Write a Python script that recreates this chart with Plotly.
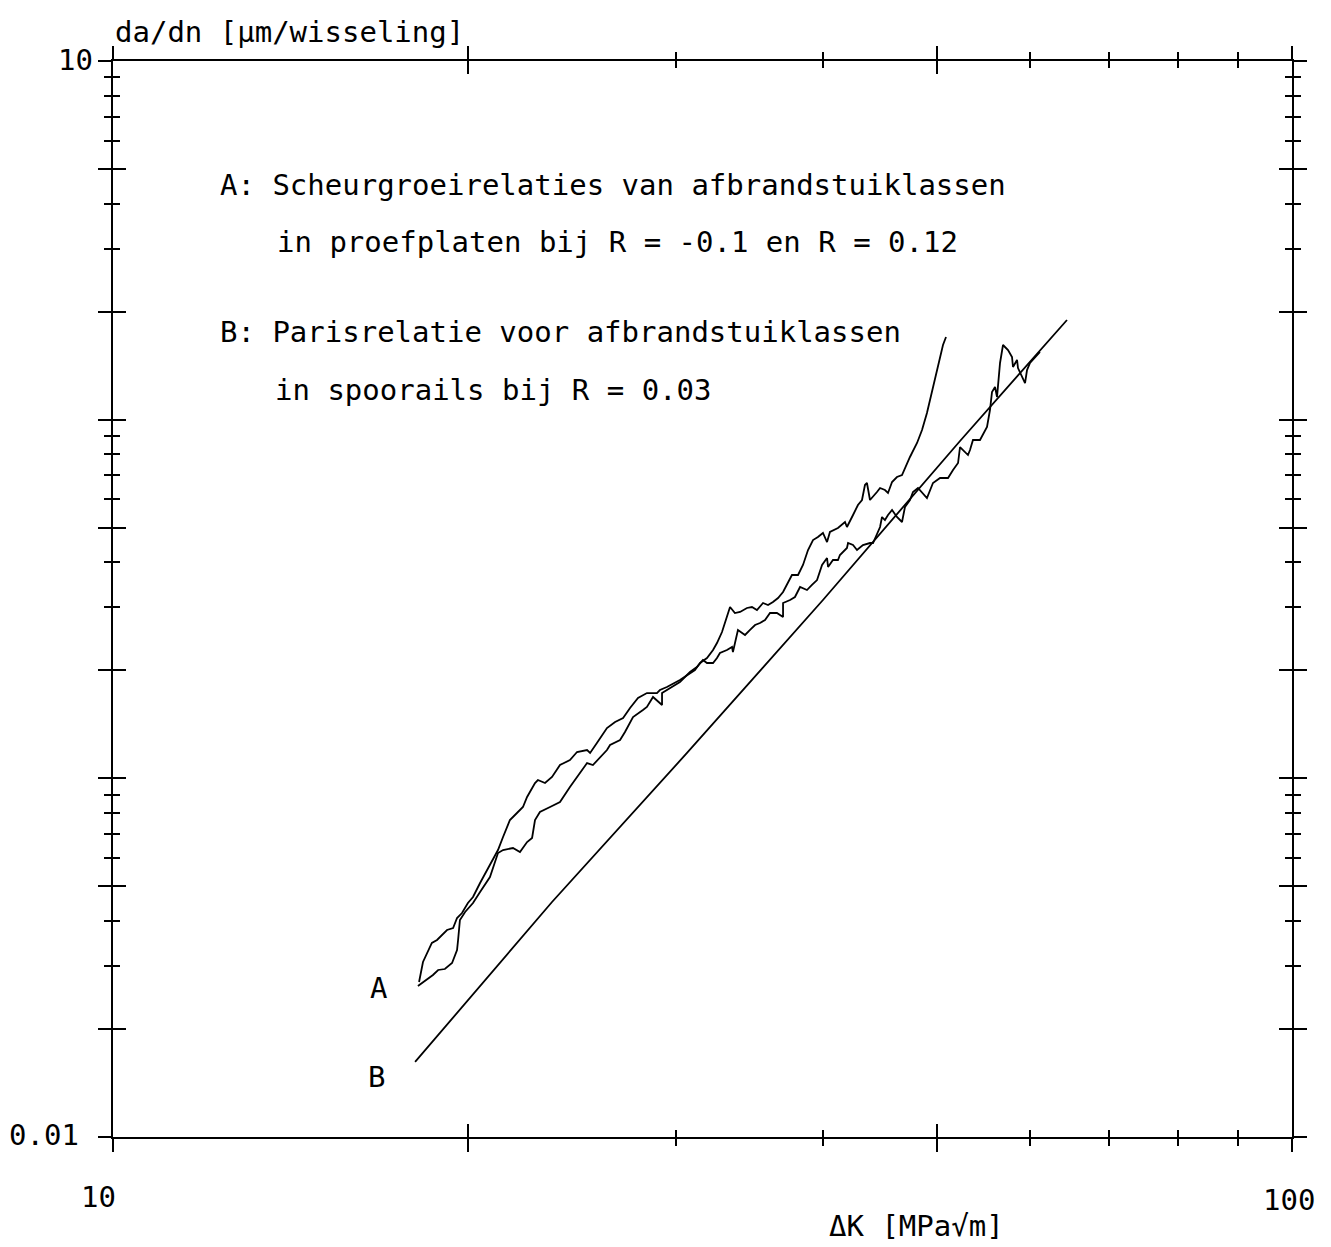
import plotly.graph_objects as go

# ---- data (ΔK in MPa√m, da/dn in µm/cycle) ----
dk_A1 = [18.18, 18.21, 18.32, 18.64, 18.83, 19.20, 19.43, 19.58, 19.77, 20.00,
         20.20, 20.48, 20.76, 21.21, 21.42, 21.71, 22.01, 22.27, 22.45, 22.80,
         22.93, 23.25, 23.57, 23.94, 24.41, 24.75, 25.24, 25.39, 25.73, 26.24,
         26.66, 27.08, 27.45, 27.88, 28.37, 28.93, 29.10, 29.50, 30.26, 30.68,
         31.16, 31.47, 31.90, 32.28, 32.53, 32.85, 33.04, 33.37, 33.69, 34.03,
         34.49, 34.83, 35.17, 35.59, 35.94, 36.29, 36.65, 37.01, 37.66, 38.11,
         38.48, 38.86, 39.24, 39.62, 40.01, 40.33, 40.56, 41.20, 41.77, 41.93,
         42.43, 42.84, 43.18, 43.43, 43.60, 43.86, 44.46, 44.73, 45.16, 45.43,
         45.79, 46.23, 46.69, 47.42, 48.08, 48.55, 49.02, 49.31, 49.60, 49.99,
         50.29, 50.58, 50.88]
dadn_A1 = [0.02705, 0.02775, 0.03076, 0.03475, 0.03542, 0.03777, 0.03826, 0.04079, 0.04212, 0.04492,
           0.04668, 0.05107, 0.05552, 0.06312, 0.06862, 0.07653, 0.08005, 0.08319, 0.08871, 0.09705,
           0.09893, 0.09705, 0.1009, 0.1089, 0.1125, 0.1184, 0.1199, 0.1177, 0.1255, 0.1381,
           0.1436, 0.1473, 0.1571, 0.1675, 0.1729, 0.1729, 0.1763, 0.1797, 0.1880, 0.1941,
           0.2005, 0.2097, 0.2165, 0.2279, 0.2384, 0.2558, 0.2711, 0.3004, 0.2890, 0.2909,
           0.2985, 0.3004, 0.2947, 0.3082, 0.3043, 0.3102, 0.3183, 0.3308, 0.3689, 0.3689,
           0.3934, 0.4331, 0.4618, 0.4708, 0.4831, 0.4559, 0.4862, 0.4988, 0.5184, 0.5020,
           0.5422, 0.5782, 0.5970, 0.6574, 0.6659, 0.5970, 0.6285, 0.6449, 0.6366, 0.6245,
           0.6702, 0.6920, 0.7010, 0.7869, 0.8609, 0.9358, 1.044, 1.135, 1.233, 1.375,
           1.495, 1.615, 1.700]

dk_A2 = [18.14, 18.68, 18.87, 19.12, 19.39, 19.58, 19.62, 19.69, 19.89, 20.20,
         20.48, 20.88, 21.21, 21.42, 21.84, 22.14, 22.45, 22.67, 22.80, 23.02,
         23.48, 23.94, 24.41, 24.89, 25.24, 25.53, 25.89, 26.24, 26.40, 26.92,
         27.18, 27.61, 28.15, 28.37, 28.71, 29.22, 29.22, 29.68, 30.26, 30.86,
         31.28, 31.65, 31.90, 32.28, 32.53, 32.72, 33.17, 33.50, 33.56, 33.89,
         34.36, 34.70, 35.04, 35.38, 35.73, 36.08, 36.57, 37.01, 37.01, 37.52,
         37.88, 38.26, 38.78, 39.16, 39.55, 39.94, 40.33, 40.41, 40.80, 41.20,
         41.36, 41.93, 42.02, 42.43, 42.76, 43.26, 43.86, 44.12, 44.46, 44.73,
         44.90, 45.16, 45.43, 45.79, 46.23, 46.69, 46.96, 47.42, 47.70, 48.17,
         49.02, 49.60, 50.29, 51.08, 51.58, 52.09, 52.29, 53.11, 53.32, 53.63,
         54.37, 54.69, 55.12, 55.44, 55.66, 55.99, 56.21, 56.54, 56.87, 57.43,
         57.88, 57.99, 58.45, 58.56, 59.02, 59.37, 59.60, 59.95, 61.13]
dadn_A2 = [0.02636, 0.02829, 0.02922, 0.02940, 0.03056, 0.03322, 0.03542, 0.04027, 0.04240, 0.04492,
           0.04820, 0.05308, 0.06192, 0.06312, 0.06394, 0.06232, 0.06645, 0.06818, 0.07653, 0.08056,
           0.08319, 0.08590, 0.09459, 0.1035, 0.1103, 0.1089, 0.1147, 0.1199, 0.1239, 0.1279,
           0.1346, 0.1482, 0.1551, 0.1581, 0.1686, 0.1601, 0.1729, 0.1786, 0.1856, 0.1979,
           0.2044, 0.2138, 0.2097, 0.2097, 0.2165, 0.2236, 0.2279, 0.2324, 0.2250, 0.2592,
           0.2510, 0.2592, 0.2676, 0.2711, 0.2763, 0.2890, 0.2890, 0.2817, 0.3082, 0.3142,
           0.3203, 0.3415, 0.3350, 0.3460, 0.3572, 0.3934, 0.4114, 0.3883, 0.4062, 0.4062,
           0.4194, 0.4387, 0.4530, 0.4472, 0.4331, 0.4472, 0.4530, 0.4530, 0.4831, 0.5020,
           0.5353, 0.5251, 0.5422, 0.5599, 0.5353, 0.5184, 0.5708, 0.5970, 0.6285, 0.6449,
           0.6048, 0.6659, 0.6876, 0.6876, 0.7238, 0.7571, 0.8390, 0.7970, 0.8230, 0.8776,
           0.8776, 0.9062, 0.9540, 1.064, 1.194, 1.233, 1.157, 1.439, 1.615, 1.564,
           1.495, 1.402, 1.467, 1.393, 1.315, 1.265, 1.375, 1.439, 1.544]

dk_B = [18.04, 23.57, 30.68, 40.01, 52.29, 64.44]
dadn_B = [0.01619, 0.04521, 0.1177, 0.3142, 0.8720, 1.896]

x_major = [10, 20, 50, 100]
x_minor = [30, 40, 60, 70, 80, 90]
y_major = [0.01, 0.02, 0.05, 0.1, 0.2, 0.5, 1, 2, 5, 10]
y_minor = [0.03, 0.04, 0.06, 0.07, 0.08, 0.09, 0.3, 0.4, 0.6, 0.7, 0.8, 0.9,
           3, 4, 6, 7, 8, 9]

FONT = "DejaVu Sans Mono"
FS = 29

fig = go.Figure()
line = dict(color="black", width=1.8)
fig.add_trace(go.Scatter(x=dk_A1, y=dadn_A1, mode="lines", line=line, showlegend=False))
fig.add_trace(go.Scatter(x=dk_A2, y=dadn_A2, mode="lines", line=line, showlegend=False))
fig.add_trace(go.Scatter(x=dk_B, y=dadn_B, mode="lines", line=line, showlegend=False,
                         xaxis="x2", yaxis="y2"))


def axis(vals, minor_vals, rng, ticks, **kw):
    return dict(type="log", range=rng, showgrid=False, zeroline=False,
                showline=True, linecolor="black", linewidth=2, mirror="ticks",
                tickmode="array", tickvals=vals, ticks=ticks, ticklen=13,
                tickwidth=2, tickcolor="black", showticklabels=False,
                minor=dict(tickmode="array", tickvals=minor_vals, ticks=ticks,
                           ticklen=7, tickwidth=2, tickcolor="black", showgrid=False),
                **kw)


fig.update_layout(
    width=1331, height=1247, autosize=False,
    margin=dict(l=113, r=39, t=61, b=110),
    paper_bgcolor="white", plot_bgcolor="white",
    font=dict(family=FONT, size=FS, color="black"),
    xaxis=axis(x_major, x_minor, [1, 2], "outside", anchor="y"),
    yaxis=axis(y_major, y_minor, [-2, 1], "outside", anchor="x"),
    xaxis2=axis(x_major, x_minor, [1, 2], "inside", overlaying="x", side="bottom", anchor="y2"),
    yaxis2=axis(y_major, y_minor, [-2, 1], "inside", overlaying="y", side="left", anchor="x2"),
)

texts = [
    ("A: Scheurgroeirelaties van afbrandstuiklassen", 0.0891, 0.8848, "left"),
    ("in proefplaten bij R = -0.1 en R = 0.12", 0.1374, 0.8318, "left"),
    ("B: Parisrelatie voor afbrandstuiklassen", 0.0891, 0.7481, "left"),
    ("in spoorails bij R = 0.03", 0.1357, 0.6942, "left"),
    ("A", 0.2248, 0.1385, "center"),
    ("B", 0.2239, 0.0558, "center"),
    ("da/dn [μm/wisseling]", 0.0, 1.027, "left"),
    ("10", -0.0322, 1.0009, "center"),
    ("0.01", -0.0585, 0.0019, "center"),
    ("10", -0.0119, -0.0558, "center"),
    ("100", 0.9975, -0.0586, "center"),
    ("ΔK [MPa√m]", 0.6819, -0.0827, "center"),
]
for t, x, y, xa in texts:
    fig.add_annotation(text=t, x=x, y=y, xref="paper", yref="paper",
                       xanchor=xa, yanchor="middle", showarrow=False,
                       font=dict(family=FONT, size=FS, color="black"))

fig.write_html("out.html")
